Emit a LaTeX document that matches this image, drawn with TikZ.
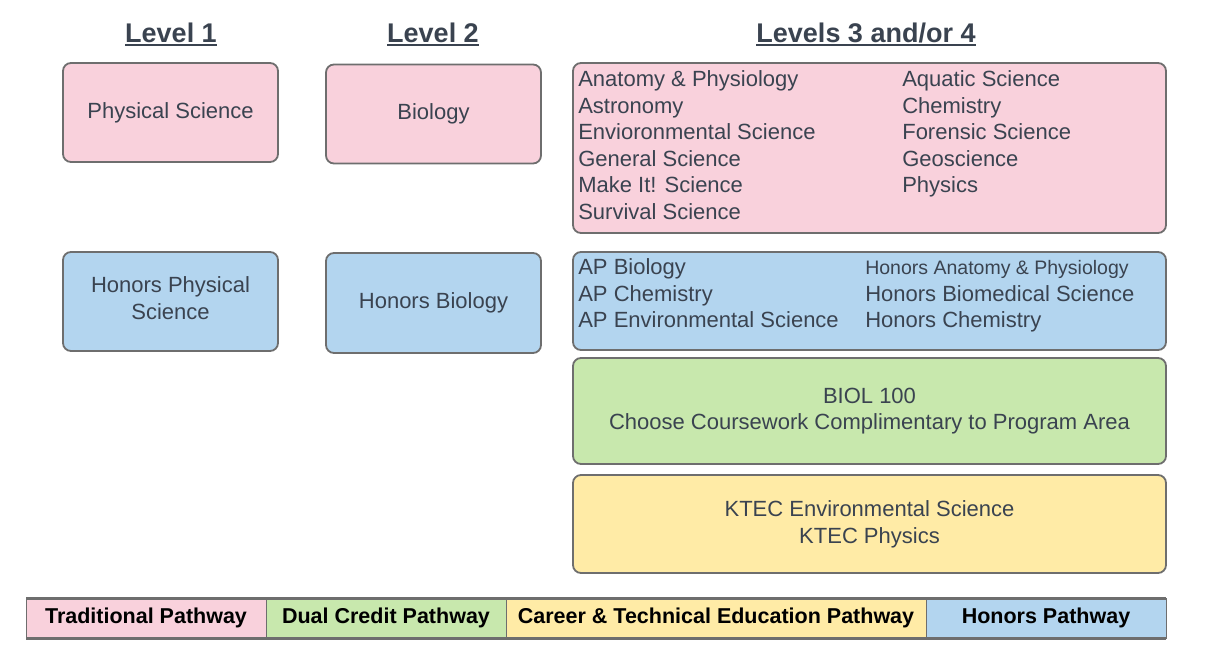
\documentclass[tikz,border=0pt]{standalone}
\usepackage{fontspec}
\setmainfont{Liberation Sans}
\usetikzlibrary{positioning}
\definecolor{tradpink}{HTML}{F9D1DC}
\definecolor{honblue}{HTML}{B3D5EF}
\definecolor{dualgreen}{HTML}{C8E8AD}
\definecolor{cteyellow}{HTML}{FFEBA6}
\definecolor{edgegray}{HTML}{6E6E6E}
\definecolor{inkgray}{HTML}{3A4350}
\newcommand{\boxfont}{\fontsize{22}{26.6}\selectfont}
\newcommand{\headfont}{\fontsize{27}{32}\selectfont\bfseries}
\newcommand{\keyfont}{\fontsize{21.5}{24}\selectfont\bfseries}
\newcommand{\lvlline}[1]{\setbox0\hbox{#1}\rlap{\rule[-3.5pt]{\wd0}{2pt}}\box0}

\begin{document}
\begin{tikzpicture}[x=1pt, y=-1pt,
  box/.style = {draw=edgegray, line width=1.8pt, rounded corners=8pt, text=inkgray, font=\boxfont, align=center, inner sep=0pt},
  small/.style = {box, minimum width=215pt, minimum height=99pt},
  wide/.style = {box, minimum width=593pt},
  head/.style = {anchor=base, text=inkgray, font=\headfont},
  list/.style = {anchor=north west, inner sep=0pt, text=inkgray, font=\boxfont},
  key/.style = {draw=edgegray, line width=1pt, minimum width=240pt, minimum height=40pt, inner sep=0pt, outer sep=0pt, font=\keyfont}]
\useasboundingbox (0,0) rectangle (1206,665);

% headings
\node[head] (lvl1) at (171,42.5) {\lvlline{Level 1}};
\node[head] (lvl2) at (433,42.5) {\lvlline{Level 2}};
\node[head] (lvl34) at (866,42.5) {\lvlline{Levels 3 and/or 4}};

% level 1 and 2
\node[small, fill=tradpink] (phys) at (170.5,112.5) {Physical Science};
\node[small, fill=tradpink] (bio) at (433.5,114) {Biology};
\node[small, fill=honblue] (hphys) at (170.5,301.5) {Honors Physical\\Science\\[-20pt]};
\node[small, fill=honblue, minimum height=100pt] (hbio) at (433.5,303) {Honors Biology};

% levels 3 and/or 4
\node[wide, fill=tradpink, minimum height=170pt] (trad) at (869.5,148) {};
\node[list] (tradlist) at ([shift={(6,5.5)}]trad.north west) {%
  \begin{tabular}{@{}p{324pt}@{}l@{}}
  Anatomy \& Physiology & Aquatic Science\\
  Astronomy & Chemistry\\
  Envioronmental Science & Forensic Science\\
  General Science & Geoscience\\
  Make It! Science & Physics\\
  Survival Science &
  \end{tabular}};
\node[wide, fill=honblue, minimum height=98pt] (ap) at (869.5,301) {};
\node[list] (aplist) at ([shift={(6,4.5)}]ap.north west) {%
  \begin{tabular}{@{}p{287pt}@{}l@{}}
  AP Biology & {\fontsize{19.5}{26.6}\selectfont Honors Anatomy \& Physiology}\\
  AP Chemistry & Honors Biomedical Science\\
  AP Environmental Science & Honors Chemistry
  \end{tabular}};
\node[wide, fill=dualgreen, minimum height=106pt] (dual) at (869.5,411) {BIOL 100\\Choose Coursework Complimentary to Program Area};
\node[wide, fill=cteyellow, minimum height=98pt] (ktec) at (869.5,524) {KTEC Environmental Science\\KTEC Physics};

% legend
\node[key, fill=tradpink] (tkey) at (146,618) {Traditional Pathway};
\node[key, fill=dualgreen, right=0pt of tkey] (dkey) {Dual Credit Pathway};
\node[key, fill=cteyellow, minimum width=420pt, right=0pt of dkey] (ckey) {Career \& Technical Education Pathway};
\node[key, fill=honblue, right=0pt of ckey] (hkey) {Honors Pathway};
\draw[edgegray, line width=3pt] (tkey.north west) -- (hkey.north east);
\draw[edgegray, line width=3pt] (tkey.south west) -- (hkey.south east);
\end{tikzpicture}
\end{document}
